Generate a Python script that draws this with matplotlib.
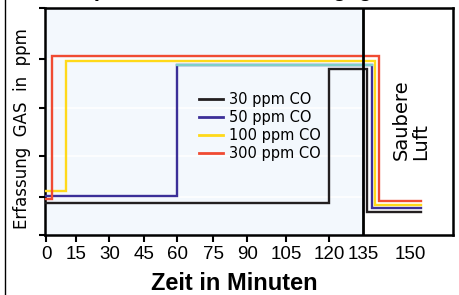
import numpy as np
import matplotlib.pyplot as plt
from matplotlib.lines import Line2D

# time axis of the original is not evenly spaced: minute ticks and where they sit (px)
tick_min = [-60, 0, 15, 30, 45, 60, 75, 90, 105, 120, 135, 150, 240]
tick_px = [-74, 46, 76, 109, 144, 177, 213, 247, 286, 329, 363, 410, 692]
x_labels = [0, 15, 30, 45, 60, 75, 90, 105, 120, 135, 150]

# unlabelled gas reading axis (arbitrary units 0..100)
y_ticks = [0, 16.7, 34.8, 55.9, 77.5, 100]

clean_air_start = 135

black_t = [0, 120, 120, 136.3, 136.3, 153.5]
black_v = [14.1, 14.1, 73.1, 73.1, 10.1, 10.1]
blue_t = [0, 60, 60, 137.9, 137.9, 153.5]
blue_v = [17.2, 17.2, 74.9, 74.9, 11.9, 11.9]
yellow_t = [0, 10, 10, 138.8, 138.8, 153.5]
yellow_v = [19.4, 19.4, 76.7, 76.7, 13.2, 13.2]
red_t = [0, 3, 3, 140.1, 140.1, 153.5]
red_v = [15.9, 15.9, 78.9, 78.9, 15.0, 15.0]

labels = ['30 ppm CO', '50 ppm CO', '100 ppm CO', '300 ppm CO']
colors = ['#231f20', '#3b2f98', '#ffd91a', '#f04b32']


def fwd(t):
    return np.interp(t, tick_min, tick_px)


def inv(p):
    return np.interp(p, tick_px, tick_min)


fig = plt.figure(figsize=(4.59, 2.95), dpi=100)
ax = fig.add_axes([45 / 459, 60 / 295, 408 / 459, 227 / 295])
ax.set_xscale('function', functions=(fwd, inv))
x0, x1 = -0.7, 163.7
ax.set_xlim(x0, x1)
ax.set_ylim(0, 100)

ax.axvspan(x0, clean_air_start, color='#f3f8fd', lw=0, zorder=0.2)
for y in y_ticks[1:-1]:
    ax.axhline(y, color='white', lw=1.2, zorder=0.3)
ax.axvline(clean_air_start, color='black', lw=2, zorder=4)

lw = 1.7
series = [(black_t, black_v), (blue_t, blue_v), (yellow_t, yellow_v), (red_t, red_v)]
for (t, v), c in zip(series, colors):
    ax.plot(t, v, color=c, lw=lw, solid_joinstyle='miter', zorder=3)
# top run of the 50 ppm trace shows up teal in the original
ax.plot(blue_t[2:4], blue_v[2:4], color='#7fcfca', lw=lw, zorder=3)

for s in ax.spines.values():
    s.set_linewidth(1.8)
    s.set_color('black')

ax.set_xticks(x_labels)
ax.set_xticklabels([str(v) for v in x_labels], family='Liberation Sans', fontsize=13.5)
ax.xaxis.set_minor_locator(plt.NullLocator())
ax.tick_params(axis='x', direction='out', length=5, width=1.5, pad=3)
for tk in ax.xaxis.get_major_ticks()[-2:]:
    tk.tick1line.set_visible(False)
ax.set_yticks(y_ticks)
ax.tick_params(axis='y', direction='out', length=4.3, width=1.5, labelleft=False)

ax.set_xlabel('Zeit in Minuten', family='Liberation Sans', fontweight='bold',
              fontsize=17)
ax.xaxis.set_label_coords(0.463, -0.163)
fig.text(22 / 459, 1 - 129 / 295, 'Erfassung  GAS  in  ppm', rotation=90,
         ha='center', va='center', fontsize=12, family='DejaVu Sans')

fig.text(411 / 459, 1 - 120 / 295, 'Saubere\nLuft', rotation=90, ha='center',
         va='center', multialignment='left', fontsize=14, linespacing=1.0)

handles = [Line2D([], [], color=c, lw=2) for c in colors]
ax.legend(handles, labels, loc='upper left', bbox_to_anchor=(0.377, 0.63),
          frameon=False, fontsize=10.5, borderpad=0, borderaxespad=0,
          handlelength=1.65, handletextpad=0.45, labelspacing=0.2)

# title sits mostly above the crop, only its descenders peek in
fig.text(0.52, 1 + 4 / 295, 'Ansprechzeit der Erfassungsgeräte', ha='center',
         va='baseline', fontsize=16, fontweight='bold', family='Liberation Sans')
fig.add_artist(Line2D([5 / 459, 5 / 459], [0, 1], transform=fig.transFigure,
                      color='black', lw=1))

fig.savefig('out.png', dpi=100)
